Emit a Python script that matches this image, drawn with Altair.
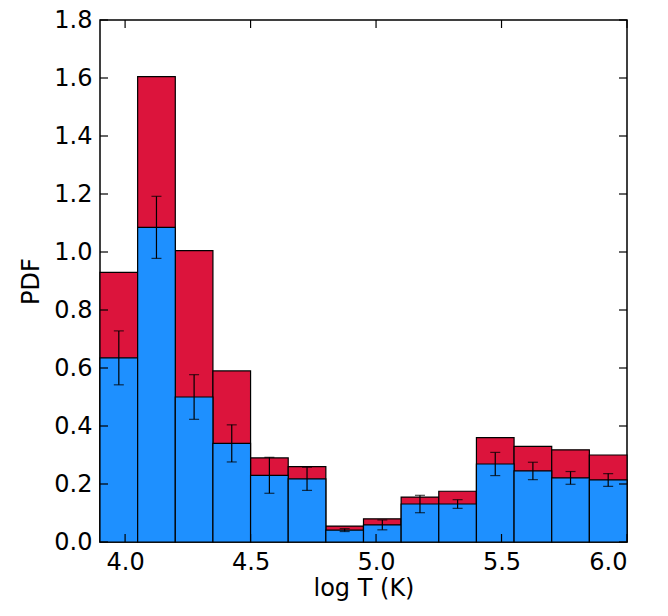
import altair as alt
import pandas as pd

edges = [3.9 + 0.15 * i for i in range(15)]
total = [0.93, 1.605, 1.005, 0.59, 0.29, 0.26, 0.055, 0.08, 0.155, 0.175, 0.36, 0.33, 0.318, 0.30]
blue = [0.635, 1.085, 0.50, 0.34, 0.23, 0.218, 0.041, 0.059, 0.131, 0.131, 0.269, 0.245, 0.221, 0.214]
err = [0.093, 0.107, 0.077, 0.064, 0.062, 0.04, 0.005, 0.017, 0.03, 0.015, 0.04, 0.03, 0.022, 0.022]
xticks = [4.0, 4.5, 5.0, 5.5, 6.0]
yticks = [0.0, 0.2, 0.4, 0.6, 0.8, 1.0, 1.2, 1.4, 1.6, 1.8]

df = pd.DataFrame({
    "x0": edges[:-1], "x1": edges[1:], "total": total, "blue": blue,
    "lo": [b - e for b, e in zip(blue, err)], "hi": [b + e for b, e in zip(blue, err)],
})
df["xc"] = (df.x0 + df.x1) / 2

W, H = 527, 522
xs = alt.Scale(domain=[3.9, 6.0], nice=False, zero=False)
ys = alt.Scale(domain=[0, 1.8], nice=False)
lab = dict(labelFontSize=24, titleFontSize=24, titleFontWeight="normal", grid=False,
           ticks=False, domain=False, labelFont="DejaVu Sans", titleFont="DejaVu Sans",
           labelColor="black", titleColor="black")

base = alt.Chart(df)
red = base.mark_bar(color="#DC143C", stroke="black", strokeWidth=1.2).encode(
    x=alt.X("x0:Q", scale=xs, axis=alt.Axis(values=xticks, format=".1f", title="log T (K)",
                                            labelPadding=8, titlePadding=2, **lab)),
    x2="x1", y=alt.Y("total:Q", scale=ys, axis=alt.Axis(values=yticks, format=".1f", title="PDF",
                                                        labelPadding=8, titlePadding=10, **lab)),
    y2=alt.datum(0))
bl = base.mark_bar(color="#1E90FF", stroke="black", strokeWidth=1.2).encode(
    x="x0:Q", x2="x1", y="blue:Q", y2=alt.datum(0))
eb = base.mark_rule(color="black", strokeWidth=1.2).encode(x="xc:Q", y="lo:Q", y2="hi")
caps_lo = base.mark_tick(color="black", size=10, thickness=1.2, orient="horizontal").encode(x="xc:Q", y="lo:Q")
caps_hi = base.mark_tick(color="black", size=10, thickness=1.2, orient="horizontal").encode(x="xc:Q", y="hi:Q")

xt = pd.DataFrame({"v": xticks})
yt = pd.DataFrame({"v": yticks})
tk = dict(color="black", strokeWidth=1.2)
tx_b = alt.Chart(xt).mark_rule(**tk).encode(x="v:Q", y=alt.value(H), y2=alt.value(H - 8))
tx_t = alt.Chart(xt).mark_rule(**tk).encode(x="v:Q", y=alt.value(0), y2=alt.value(8))
ty_l = alt.Chart(yt).mark_rule(**tk).encode(y="v:Q", x=alt.value(0), x2=alt.value(8))
ty_r = alt.Chart(yt).mark_rule(**tk).encode(y="v:Q", x=alt.value(W), x2=alt.value(W - 8))

chart = alt.layer(red, bl, eb, caps_lo, caps_hi, tx_b, tx_t, ty_l, ty_r).properties(
    width=W, height=H, autosize=alt.AutoSizeParams(type="none"),
    padding={"left": 92, "top": 12, "right": 33, "bottom": 66},
).configure_view(stroke="black", strokeWidth=1.5)

chart.save("out.html", embed_options={"renderer": "svg", "actions": False})
